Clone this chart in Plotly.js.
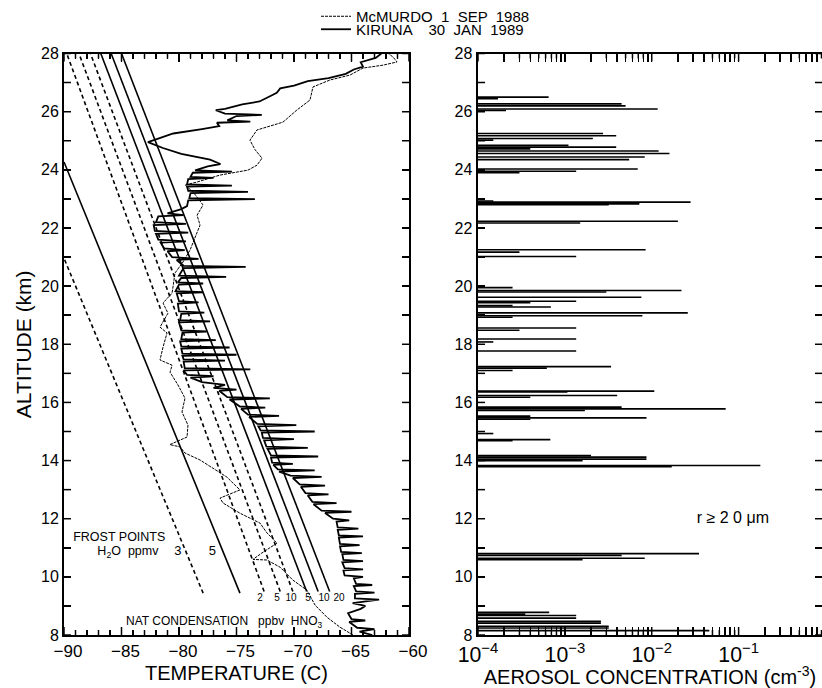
<!DOCTYPE html>
<html>
<head>
<meta charset="utf-8">
<script src="https://cdn.plot.ly/plotly-3.0.1.min.js"></script>
<style>html,body{margin:0;padding:0;background:#fff;}#chart{width:822px;height:688px;}</style>
</head>
<body>
<div id="chart"></div>
<script>
// ---------- DATA ----------
const tempTicks = [-90, -85, -80, -75, -70, -65, -60];
const altTicks = [8, 10, 12, 14, 16, 18, 20, 22, 24, 26, 28];
const concTicks = [1e-4, 1e-3, 1e-2, 1e-1];
const concBase = 1e-4;

// McMurdo 1 Sep 1988 temperature profile
const mcmurdoAlt = [8.0,8.27,8.61,9.03,9.54,9.89,10.33,10.58,10.6,10.82,11.16,11.51,11.85,12.19,12.54,12.71,12.99,13.43,14.02,14.26,14.47,14.55,14.81,15.22,15.67,16.15,16.6,17.04,17.28,17.46,17.9,18.39,18.59,19.07,19.42,19.76,20.45,20.83,21.24,21.65,22.1,22.44,22.79,23.24,23.48,23.58,23.82,23.99,24.16,24.4,24.7,25.02,25.37,25.64,26.06,26.4,26.85,27.09,27.26,27.5,27.6,27.71,27.88,28.0];
const mcmurdoTemp = [-64.87,-66.0,-67.13,-68.17,-68.87,-70.1,-71.2,-72.35,-73.57,-72.8,-71.48,-72.35,-72.96,-74.7,-76.17,-76.43,-74.7,-75.83,-78.17,-79.48,-79.91,-80.8,-79.3,-79.22,-79.74,-79.48,-80.09,-80.78,-80.6,-81.65,-81.39,-81.04,-81.65,-80.96,-81.39,-80.6,-80.35,-79.65,-79.04,-78.6,-78.17,-78.43,-77.91,-78.78,-79.48,-78.43,-76.43,-74.0,-73.22,-72.78,-73.4,-73.83,-73.22,-70.96,-69.74,-68.61,-68.35,-66.87,-65.13,-64.0,-62.26,-61.04,-61.39,-61.8];

// Kiruna 30 Jan 1989 temperature profile
const kirunaAlt = [
 8.0,8.12,8.2,8.25,8.45,8.5,8.55,8.75,8.9,9.0,
 9.1,9.22,9.26,9.42,9.46,9.5,9.68,9.72,9.76,9.95,
 10.0,10.05,10.22,10.26,10.3,10.5,10.54,10.58,10.78,10.82,
 10.86,11.05,11.09,11.13,11.35,11.39,11.43,11.62,11.66,11.7,
 11.9,11.94,12.0,12.2,12.24,12.28,12.5,12.54,12.58,12.8,
 12.84,12.88,13.1,13.14,13.18,13.4,13.44,13.48,13.62,13.66,
 13.7,13.85,13.89,13.93,14.1,14.14,14.18,14.4,14.44,14.48,
 14.7,14.74,14.78,14.96,15.0,15.04,15.18,15.22,15.26,15.5,
 15.54,15.58,15.78,15.82,15.86,16.1,16.14,16.18,16.4,16.44,
 16.5,16.6,16.7,16.85,16.9,16.95,17.1,17.14,17.18,17.4,
 17.44,17.48,17.6,17.64,17.68,17.85,17.89,17.93,18.1,18.14,
 18.18,18.4,18.44,18.48,18.75,18.79,18.83,19.05,19.09,19.13,
 19.4,19.44,19.48,19.75,19.79,19.83,20.05,20.09,20.13,20.28,
 20.32,20.36,20.62,20.66,20.7,20.9,20.94,21.0,21.2,21.24,
 21.3,21.5,21.54,21.6,21.8,21.84,21.9,22.1,22.14,22.2,
 22.4,22.44,22.5,22.65,22.75,22.95,22.99,23.03,23.2,23.24,
 23.28,23.42,23.46,23.5,23.68,23.72,23.76,23.9,23.94,23.98,
 24.12,24.2,24.35,24.55,24.75,24.95,25.05,25.25,25.4,25.5,
 25.62,25.66,25.7,25.85,25.89,25.93,26.05,26.1,26.25,26.35,
 26.55,26.65,26.8,26.9,27.05,27.15,27.3,27.45,27.55,27.7,
 27.85,28.0];
const kirunaTemp = [
 -63.2,-64.3,-63.0,-64.5,-65.2,-63.8,-65.0,-65.3,-64.2,-63.8,
 -64.9,-62.6,-64.7,-64.7,-63.0,-64.6,-64.8,-63.2,-64.6,-64.8,
 -64.0,-65.6,-65.7,-64.0,-65.6,-65.8,-64.0,-65.7,-65.8,-64.1,
 -65.9,-66.0,-64.3,-66.0,-66.1,-64.0,-66.1,-66.2,-64.4,-66.2,
 -66.3,-65.2,-66.6,-67.3,-65.0,-67.6,-68.3,-66.3,-68.4,-68.8,
 -67.0,-69.0,-69.4,-67.3,-69.5,-70.1,-67.6,-70.3,-71.3,-68.2,
 -71.4,-71.8,-70.1,-71.9,-72.0,-67.9,-72.0,-72.3,-68.8,-72.4,
 -72.6,-70.0,-72.7,-72.8,-68.2,-72.9,-73.1,-69.8,-73.2,-73.9,
 -71.3,-74.0,-74.6,-72.5,-74.7,-75.6,-72.1,-75.8,-76.5,-75.0,
 -77.0,-76.0,-78.0,-79.0,-77.0,-79.3,-79.6,-73.8,-79.5,-79.6,
 -76.0,-79.6,-79.7,-75.0,-79.7,-79.8,-75.6,-79.8,-79.9,-76.8,
 -79.8,-79.7,-77.6,-79.8,-80.0,-77.3,-79.9,-79.8,-77.8,-80.0,
 -80.1,-78.3,-80.0,-80.2,-77.9,-80.3,-80.0,-77.9,-80.1,-79.8,
 -75.9,-80.0,-79.6,-74.2,-79.6,-80.2,-78.3,-80.6,-81.0,-79.5,
 -81.3,-81.6,-79.4,-81.8,-82.0,-79.2,-82.1,-82.2,-79.4,-82.0,
 -81.8,-79.6,-81.0,-79.8,-79.3,-79.2,-73.4,-79.1,-79.0,-74.0,
 -79.2,-79.3,-75.4,-79.3,-79.2,-77.0,-79.0,-78.8,-75.4,-78.6,
 -77.5,-76.4,-77.3,-79.8,-81.4,-82.7,-82.0,-80.5,-78.0,-76.5,
 -76.7,-73.8,-75.8,-75.0,-72.8,-76.0,-76.8,-76.0,-74.5,-73.0,
 -72.0,-71.5,-71.2,-70.0,-68.8,-67.0,-65.5,-64.8,-64.0,-64.2,
 -62.9,-62.4];

// Frost point lines (H2O ppmv) : [bottom, top]
const frost3Temp = [-77.9, -90.0];  const frost3Alt = [9.44, 20.96];
const frost5Temp = [-74.7, -90.0];  const frost5Alt = [9.44, 24.27];
// NAT condensation lines (ppbv HNO3), 3 ppmv H2O (dashed) and 5 ppmv H2O (solid)
const natAlt = [9.5, 28.0];
const nat3ppbv2Temp = [-72.6, -89.76];
const nat3ppbv5Temp = [-71.2, -88.7];
const nat3ppbv10Temp = [-70.1, -87.7];
const nat5ppbv5Temp = [-68.9, -86.8];
const nat5ppbv10Temp = [-67.9, -85.9];
const nat5ppbv20Temp = [-66.9, -85.0];
const natLabels = ['2', '5', '10', '5', '10', '20'];
const natLabelTemp = [-72.96, -71.48, -70.26, -68.78, -67.39, -66.09];
const natLabelAlt = 9.25;

// Aerosol concentration (r >= 20 um), cm^-3
const aerosolAlt = [26.50,26.45,26.27,26.20,26.09,26.04,25.25,25.17,25.08,25.02,24.84,24.78,24.72,24.65,24.56,24.44,24.35,24.03,23.95,23.90,
 22.93,22.89,22.83,22.80,22.23,22.17,21.25,21.17,21.02,19.95,19.85,19.80,19.62,19.48,19.43,19.33,19.28,19.08,18.98,18.93,
 18.56,18.48,18.18,18.08,17.77,17.23,17.18,17.10,16.39,16.36,16.24,16.18,15.84,15.78,15.72,15.53,15.47,15.42,14.93,14.72,14.68,
 14.17,14.12,14.05,14.00,13.83,13.79,10.80,10.74,10.64,10.59,8.78,8.72,8.67,8.58,8.47,8.41,8.30,8.24,8.15];
const aerosolConc = [6.5e-4,1.7e-4,4.5e-3,5.0e-3,1.17e-2,2.1e-4,2.75e-3,3.9e-3,2.1e-3,1.5e-4,1.1e-3,3.9e-3,4.0e-4,1.2e-2,1.6e-2,8.3e-3,5.5e-3,6.9e-3,1.35e-3,3.0e-4,
 1.5e-4,2.8e-2,7.2e-3,3.2e-3,2.0e-2,1.5e-3,8.5e-3,3.0e-4,1.35e-3,2.5e-4,2.2e-2,3.0e-3,7.6e-3,1.35e-3,4.0e-4,2.5e-4,6.9e-4,2.6e-2,7.8e-3,2.5e-4,
 1.35e-3,3.0e-4,1.35e-3,1.5e-4,1.35e-3,3.4e-3,6.2e-4,2.5e-4,1.07e-2,1.07e-3,4.0e-3,4.0e-4,4.5e-3,7.1e-2,1.7e-3,4.0e-4,8.7e-3,4.0e-4,1.5e-4,6.8e-4,2.5e-4,
 2.0e-3,8.7e-3,8.7e-3,1.6e-3,0.178,1.7e-2,3.5e-2,4.5e-3,8.3e-3,1.6e-3,6.6e-4,3.5e-4,1.35e-3,1.35e-3,2.6e-3,2.6e-3,3.2e-3,3.2e-3,4.6e-2];

// ---------- BUILD ----------
const FONT = 'Liberation Sans, Arial, Helvetica, sans-serif';
const segX = [], segY = [];
for (let i = 0; i < aerosolAlt.length; i++) {
  segX.push(concBase, aerosolConc[i], null);
  segY.push(aerosolAlt[i], aerosolAlt[i], null);
}
function refLine(t, a, dash) {
  return {x: t, y: a, xaxis: 'x', yaxis: 'y', mode: 'lines', showlegend: false,
          line: {color: '#000', width: 1.6, dash: dash}};
}
function label(xs, ys, texts, pos, size, xa, ya) {
  return {x: xs, y: ys, text: texts, mode: 'text', textposition: pos, xaxis: xa || 'x', yaxis: ya || 'y',
          textfont: {family: FONT, size: size, color: '#000'}, showlegend: false, cliponaxis: false};
}
const DASH = '4px,3px';
const traces = [
  refLine(frost3Temp, frost3Alt, DASH),
  refLine(frost5Temp, frost5Alt, 'solid'),
  refLine(nat3ppbv2Temp, natAlt, DASH),
  refLine(nat3ppbv5Temp, natAlt, DASH),
  refLine(nat3ppbv10Temp, natAlt, DASH),
  refLine(nat5ppbv5Temp, natAlt, 'solid'),
  refLine(nat5ppbv10Temp, natAlt, 'solid'),
  refLine(nat5ppbv20Temp, natAlt, 'solid'),
  {x: mcmurdoTemp, y: mcmurdoAlt, xaxis: 'x', yaxis: 'y', mode: 'lines', name: 'McMURDO  1  SEP  1988',
   legend: 'legend', line: {color: '#000', width: 1, dash: '3px,1px'}},
  {x: kirunaTemp, y: kirunaAlt, xaxis: 'x', yaxis: 'y', mode: 'lines', name: 'KIRUNA    30  JAN  1989',
   legend: 'legend2', line: {color: '#000', width: 1.8}},
  {x: segX, y: segY, xaxis: 'x2', yaxis: 'y2', mode: 'lines', showlegend: false,
   line: {color: '#000', width: 1.6}},
  {x: [null], y: [null], xaxis: 'x2', yaxis: 'y3', mode: 'lines', showlegend: false},
  // text labels
  label([-89.2], [11.33], ['FROST POINTS'], 'middle right', 12.5),
  label([-87.1], [10.85], ['H<sub>2</sub>O  ppmv'], 'middle right', 12.5),
  label([-80.1, -77.1], [10.85, 10.85], ['3', '5'], 'middle center', 13),
  label([-84.6], [8.44], ['NAT CONDENSATION   ppbv  HNO<sub>3</sub>'], 'middle right', 12),
  label(natLabelTemp, natLabelTemp.map(function () { return natLabelAlt; }), natLabels, 'middle center', 10),
  label([3.3e-2], [11.99], ['r ≥ 2 0 μm'], 'middle right', 16, 'x2', 'y2')
];

// ---------- frame tick marks drawn as shapes (top layer) ----------
const yDom = [0.077, 0.9222];
const PLOT_H = (yDom[1] - yDom[0]) * 688;   // plot height in px
const LEFT_W = 409 - 64, RIGHT_W = 822 - 478; // panel widths in px
const CONC_MAX_LOG = -0.04;
const TL = {color: '#000', width: 1.5};
const shapes = [];
function vTick(xref, x, frac) {      // bottom + top ticks at data x
  shapes.push({type: 'line', layer: 'above', xref: xref, yref: 'paper', x0: x, x1: x, y0: yDom[0], y1: yDom[0] + frac, line: TL});
  shapes.push({type: 'line', layer: 'above', xref: xref, yref: 'paper', x0: x, x1: x, y0: yDom[1], y1: yDom[1] - frac, line: TL});
}
function hTick(xref, yref, y, frac, left, right) {
  if (left) shapes.push({type: 'line', layer: 'above', xref: xref, yref: yref, x0: 0, x1: frac, y0: y, y1: y, line: TL});
  if (right) shapes.push({type: 'line', layer: 'above', xref: xref, yref: yref, x0: 1, x1: 1 - frac, y0: y, y1: y, line: TL});
}
// left panel temperature ticks every 1 C (longer at labelled 5 C)
for (let t = tempTicks[0]; t <= tempTicks[tempTicks.length - 1]; t++) {
  vTick('x', t, ((t % 5 === 0) ? 8 : 5) / 688);
}
// altitude ticks every km on both panels
for (let a = altTicks[0]; a <= altTicks[altTicks.length - 1]; a++) {
  hTick('x domain', 'y', a, 7 / LEFT_W, true, true);
  hTick('x2 domain', 'y2', a, 7 / RIGHT_W, true, true);
}
// right panel log ticks (1..9 per decade) expressed as a fraction of the x2 domain
const logMin = Math.log10(concTicks[0]);
for (let d = 0; d < concTicks.length; d++) {
  for (let m = 1; m <= 9; m++) {
    const lg = Math.log10(concTicks[d] * m);
    if (lg > CONC_MAX_LOG) continue;
    vTick('x2 domain', (lg - logMin) / (CONC_MAX_LOG - logMin), (m === 1 ? 8 : 5) / 688);
  }
}
// the x2 domain-ref ticks need a y of paper: fix xref for those (already 'x2 domain')

const TK = {ticks: 'inside', tickwidth: 1.5, tickcolor: '#000', showgrid: false, zeroline: false, layer: 'above traces'};
const layout = {
  width: 822, height: 688,
  margin: {l: 0, r: 0, t: 0, b: 0, autoexpand: false},
  font: {family: FONT, color: '#000', size: 16},
  showlegend: true,
  legend: {x: 316/822, y: 1, xanchor: 'left', yanchor: 'top', bgcolor: 'rgba(0,0,0,0)', font: {size: 15}, borderwidth: 0},
  legend2: {x: 316/822, y: 1 - 13/688, xanchor: 'left', yanchor: 'top', bgcolor: 'rgba(0,0,0,0)', font: {size: 15}, borderwidth: 0},
  xaxis: Object.assign({}, TK, {domain: [64/822, 409/822], range: [-90, -60], anchor: 'y',
    tickmode: 'linear', tick0: tempTicks[0], dtick: 5, ticklen: 8,
    showline: true, linewidth: 2, linecolor: '#000', mirror: 'allticks',
    minor: {dtick: 1, tick0: -90, ticks: 'inside', ticklen: 5, tickwidth: 1.5, tickcolor: '#000'},
    tickfont: {size: 17}, ticklabelshift: 4,
    title: {text: 'TEMPERATURE (C)', font: {size: 20}, standoff: 6}}),
  yaxis: Object.assign({}, TK, {domain: yDom, range: [8, 28], anchor: 'x',
    tickmode: 'linear', tick0: altTicks[0], dtick: 2, ticklen: 7,
    showline: true, linewidth: 2, linecolor: '#000', mirror: 'allticks',
    minor: {dtick: 1, tick0: 8, ticks: 'inside', ticklen: 7, tickwidth: 1.5, tickcolor: '#000'},
    tickfont: {size: 16},
    title: {text: 'ALTITUDE (km)', font: {size: 21}, standoff: 4}}),
  xaxis2: Object.assign({}, TK, {type: 'log', domain: [478/822, 1], range: [logMin, CONC_MAX_LOG], anchor: 'y2',
    tickmode: 'linear', tick0: 0, dtick: 1, exponentformat: 'power', showexponent: 'all', ticklen: 8,
    showline: true, linewidth: 2, linecolor: '#000', mirror: 'allticks',
    minor: {dtick: 'D1', ticks: 'inside', ticklen: 5, tickwidth: 1.5, tickcolor: '#000'},
    tickfont: {size: 17},
    title: {text: 'AEROSOL CONCENTRATION (cm<sup>-3</sup>)', font: {size: 20}, standoff: 6}}),
  yaxis2: Object.assign({}, TK, {domain: yDom, range: [8, 28], anchor: 'x2',
    tickmode: 'linear', tick0: 8, dtick: 2, ticklen: 7,
    showline: true, linewidth: 2.5, linecolor: '#000', mirror: false,
    minor: {dtick: 1, tick0: 8, ticks: 'inside', ticklen: 7, tickwidth: 1.5, tickcolor: '#000'},
    tickfont: {size: 16}}),
  yaxis3: Object.assign({}, TK, {domain: yDom, range: [8, 28], anchor: 'x2', overlaying: 'y2', side: 'right',
    tickmode: 'linear', tick0: 8, dtick: 1, ticklen: 7, showticklabels: false, showline: false}),
  shapes: shapes
};

Plotly.newPlot('chart', traces, layout, {staticPlot: true});
</script>
</body>
</html>
